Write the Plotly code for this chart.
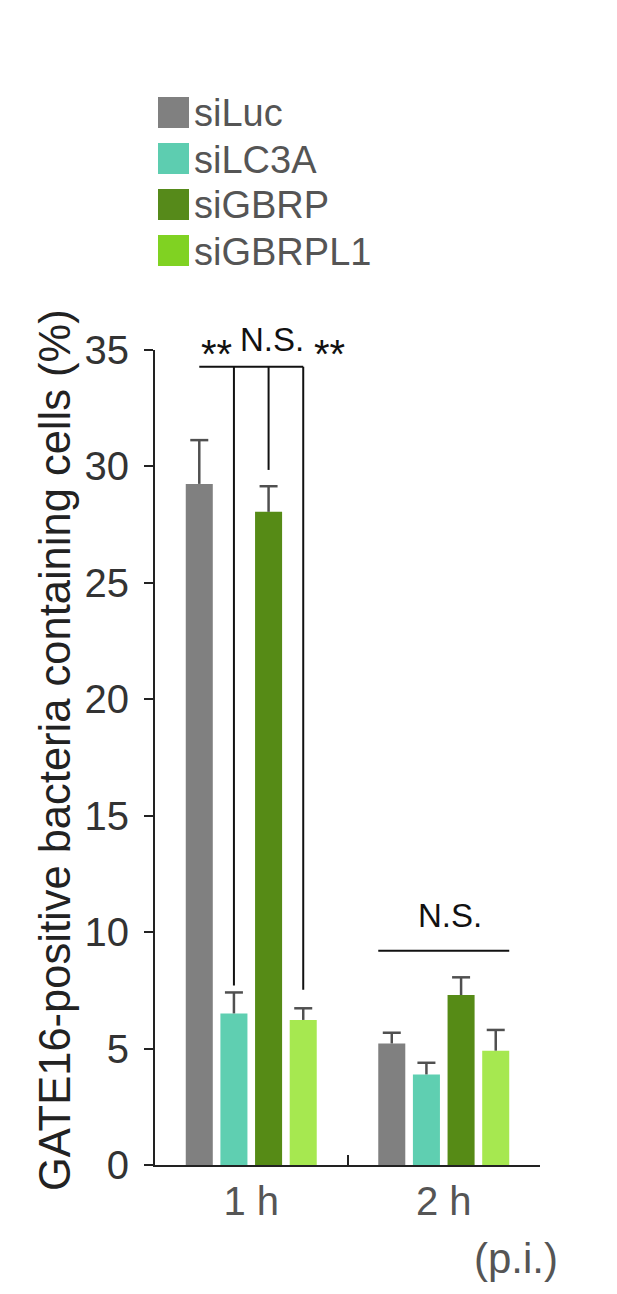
import plotly.graph_objects as go

# ---- data ----
categories = ["1 h", "2 h"]
series_names = ["siLuc", "siLC3A", "siGBRP", "siGBRPL1"]
means = {
    "siLuc":    [29.25, 5.22],
    "siLC3A":   [6.51, 3.89],
    "siGBRP":   [28.05, 7.30],
    "siGBRPL1": [6.23, 4.91],
}
errors = {
    "siLuc":    [1.88, 0.46],
    "siLC3A":   [0.90, 0.50],
    "siGBRP":   [1.10, 0.76],
    "siGBRPL1": [0.50, 0.89],
}
y_ticks = [0, 5, 10, 15, 20, 25, 30, 35]
y_title = "GATE16-positive bacteria containing cells (%)"
x_note = "(p.i.)"
sig_1h = ["**", "N.S.", "**"]
sig_2h = "N.S."

# ---- style ----
bar_colors = ["#808080", "#5fcfb1", "#568b16", "#a6e850"]
legend_colors = ["#808080", "#5dcdb0", "#568a1a", "#80d222"]
err_color = "#505050"
FONT = "Liberation Sans, Arial, sans-serif"
OFF = 8                      # page body margin
W, H = 617 - 2 * OFF, 1294 - 2 * OFF
# plot area in window pixels: x 155..540, y 350..1165
L = 155 - OFF
T = 350 - OFF
R = W - (540 - OFF)
B = H - (1165 - OFF)
plot_w = W - L - R
plot_h = H - T - B
YMAX = 35

bargap = 0.28
bargroupgap = 0.22
n = len(series_names)
slot = (1 - bargap) / n
offsets = [(-(n - 1) / 2 + i) * slot for i in range(n)]
half_bar = slot * (1 - bargroupgap) / 2
cap_half = 9 / plot_w * 2   # 9 px in category units (axis spans 2 units)

fig = go.Figure()
for i, s in enumerate(series_names):
    fig.add_trace(go.Bar(
        x=categories, y=means[s], name=s,
        marker=dict(color=bar_colors[i], line=dict(width=0)),
        error_y=dict(type="data", array=errors[s], arrayminus=[0] * len(categories),
                     symmetric=False, color=err_color, thickness=2.5, width=0),
        showlegend=False,
    ))

shapes = []
annotations = []

def px_to_paper_x(px):
    return (px - 155) / plot_w

def px_to_paper_y(py):
    return (1165 - py) / plot_h

# error-bar caps
for i, s in enumerate(series_names):
    for c in range(len(categories)):
        xc = c + offsets[i]
        yt = means[s][c] + errors[s][c]
        shapes.append(dict(type="line", xref="x", yref="y",
                           x0=xc - cap_half, x1=xc + cap_half, y0=yt, y1=yt,
                           line=dict(color=err_color, width=2.5)))

# manual legend
leg_top = 97
leg_step = 46
sq = 31
for i, s in enumerate(series_names):
    y0 = leg_top + i * leg_step
    shapes.append(dict(type="rect", xref="paper", yref="paper",
                       x0=px_to_paper_x(158), x1=px_to_paper_x(158 + sq),
                       y0=px_to_paper_y(y0 + sq), y1=px_to_paper_y(y0),
                       fillcolor=legend_colors[i], line=dict(width=0)))
    annotations.append(dict(xref="paper", yref="paper",
                            x=px_to_paper_x(192), y=px_to_paper_y(y0 + sq / 2 + 1),
                            text=s, showarrow=False, xanchor="left", yanchor="middle",
                            font=dict(family=FONT, size=38, color="#555555")))

# y-axis title (rotated)
annotations.append(dict(xref="paper", yref="paper", x=px_to_paper_x(55), y=px_to_paper_y(750),
                        text=y_title, textangle=-90, showarrow=False,
                        xanchor="center", yanchor="middle",
                        font=dict(family=FONT, size=43.5, color="#222222")))

line_style = dict(color="#111111", width=2)
# 1 h bracket
top_1h = 34.28
i_gray, i_teal, i_dg, i_lg = 0, 1, 2, 3
gaps = [0.0, 0.3, 0.7, 0.8]
shapes.append(dict(type="line", xref="x", yref="y",
                   x0=0 + offsets[i_gray], x1=0 + offsets[i_lg], y0=top_1h, y1=top_1h, line=line_style))
for k in (i_teal, i_dg, i_lg):
    s = series_names[k]
    bottom = means[s][0] + errors[s][0] + gaps[k]
    shapes.append(dict(type="line", xref="x", yref="y",
                       x0=0 + offsets[k], x1=0 + offsets[k], y0=bottom, y1=top_1h, line=line_style))
annotations.append(dict(xref="x", yref="y", x=-0.18, y=33.78, text=sig_1h[0], showarrow=False,
                        xanchor="center", yanchor="bottom", font=dict(family=FONT, size=40, color="#111111")))
annotations.append(dict(xref="x", yref="y", x=0.11, y=34.55, text=sig_1h[1], showarrow=False,
                        xanchor="center", yanchor="bottom", font=dict(family=FONT, size=33, color="#111111")))
annotations.append(dict(xref="x", yref="y", x=0.405, y=33.78, text=sig_1h[2], showarrow=False,
                        xanchor="center", yanchor="bottom", font=dict(family=FONT, size=40, color="#111111")))

# 2 h bracket
top_2h = 9.2
shapes.append(dict(type="line", xref="x", yref="y",
                   x0=1 + offsets[0] - half_bar, x1=1 + offsets[-1] + half_bar,
                   y0=top_2h, y1=top_2h, line=line_style))
annotations.append(dict(xref="x", yref="y", x=1.03, y=9.85, text=sig_2h, showarrow=False,
                        xanchor="center", yanchor="bottom", font=dict(family=FONT, size=33, color="#111111")))

# (p.i.)
annotations.append(dict(xref="paper", yref="paper", x=px_to_paper_x(560), y=px_to_paper_y(1258),
                        text=x_note, showarrow=False, xanchor="right", yanchor="middle",
                        font=dict(family=FONT, size=42, color="#555555")))

fig.update_layout(
    width=W, height=H,
    margin=dict(l=L, r=R, t=T, b=B, autoexpand=False),
    paper_bgcolor="white", plot_bgcolor="white",
    barmode="group", bargap=bargap, bargroupgap=bargroupgap,
    shapes=shapes, annotations=annotations,
    font=dict(family=FONT),
)
fig.update_xaxes(
    type="category", range=[-0.5, 1.5],
    showline=True, linecolor="#222222", linewidth=2,
    ticks="inside", tickson="boundaries", ticklen=10, tickwidth=2, tickcolor="#222222",
    tickfont=dict(family=FONT, size=40, color="#555555"),
    showgrid=False, zeroline=False,
)
fig.update_yaxes(
    range=[0, YMAX], tickvals=y_ticks,
    showline=True, linecolor="#222222", linewidth=2,
    ticks="outside", ticklen=9, tickwidth=2, tickcolor="#222222",
    tickfont=dict(family=FONT, size=40, color="#333333"),
    ticklabelstandoff=7,
    showgrid=False, zeroline=False,
)

fig.write_html("out.html")
